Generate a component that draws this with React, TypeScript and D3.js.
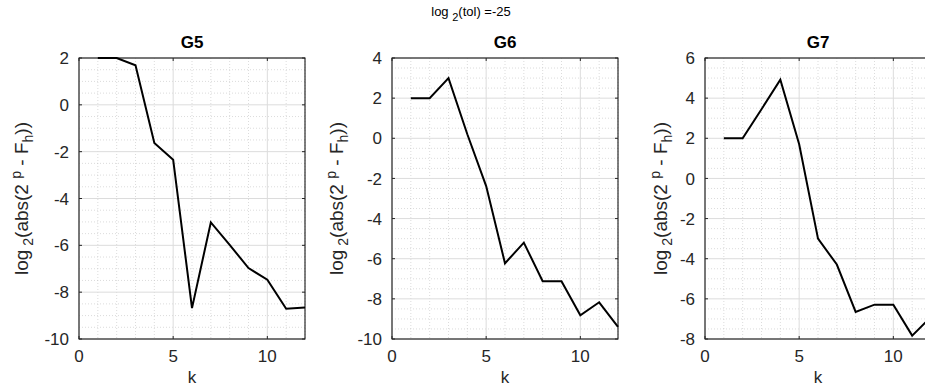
import React from "react";
import * as d3 from "d3";

const ks = [1, 2, 3, 4, 5, 6, 7, 8, 9, 10, 11, 12];
const g5 = [2.0, 2.0, 1.69, -1.63, -2.34, -8.68, -5.02, -5.98, -6.97, -7.47, -8.71, -8.65];
const g6 = [2.0, 2.0, 3.0, 0.2, -2.38, -6.23, -5.2, -7.12, -7.12, -8.82, -8.17, -9.4];
const g7 = [2.0, 2.0, 3.45, 4.92, 1.7, -3.0, -4.29, -6.65, -6.29, -6.29, -7.83, -6.9];

const titles = ["G5", "G6", "G7"];
const yDomains: [number, number][] = [[-10, 2], [-10, 4], [-8, 6]];
const series = [g5, g6, g7];
const xTicks = [0, 5, 10];

const W = 925, H = 392;
const panelLefts = [79, 392, 705];
const labelOffsets = [51, 49, 38];
const panelW = 226;
const top = 58, bottom = 339;
const FONT = "'Liberation Sans', Arial, Helvetica, sans-serif";

function Panel({ idx }: { idx: number }) {
  const left = panelLefts[idx];
  const x = d3.scaleLinear().domain([0, 12]).range([left, left + panelW]);
  const y = d3.scaleLinear().domain(yDomains[idx]).range([bottom, top]);
  const yTicks = d3.range(yDomains[idx][0], yDomains[idx][1] + 0.001, 2);
  const yMinor = d3.range(yDomains[idx][0], yDomains[idx][1] + 0.001, 0.5).filter((v) => Math.abs(v % 2) > 1e-6);
  const xMinor = d3.range(0, 12.001, 1).filter((v) => v % 5 !== 0);
  const line = d3.line<number>().x((_, i) => x(ks[i])).y((d) => y(d));
  const data = series[idx];
  const lx = left - labelOffsets[idx];
  const ly = (top + bottom) / 2;
  return (
    <g>
      {yMinor.map((v) => (
        <line key={"ym" + v} x1={left} x2={left + panelW} y1={y(v)} y2={y(v)} stroke="#c4c4c4" strokeWidth={0.6} strokeDasharray="1,2" />
      ))}
      {xMinor.map((v) => (
        <line key={"xm" + v} x1={x(v)} x2={x(v)} y1={top} y2={bottom} stroke="#c4c4c4" strokeWidth={0.6} strokeDasharray="1,2" />
      ))}
      {yTicks.map((v) => (
        <line key={"yg" + v} x1={left} x2={left + panelW} y1={y(v)} y2={y(v)} stroke="#dcdcdc" strokeWidth={1} />
      ))}
      {xTicks.map((v) => (
        <line key={"xg" + v} x1={x(v)} x2={x(v)} y1={top} y2={bottom} stroke="#dcdcdc" strokeWidth={1} />
      ))}
      <path d={line(data) || ""} fill="none" stroke="#000" strokeWidth={2} strokeLinejoin="miter" />
      <rect x={left} y={top} width={panelW} height={bottom - top} fill="none" stroke="#000" strokeWidth={1} />
      {yTicks.map((v) => (
        <g key={"yt" + v}>
          <line x1={left} x2={left + 3} y1={y(v)} y2={y(v)} stroke="#262626" />
          <line x1={left + panelW} x2={left + panelW - 3} y1={y(v)} y2={y(v)} stroke="#262626" />
          <text x={left - 10} y={y(v)} dy="0.36em" textAnchor="end" fontSize={17} fontFamily={FONT} fill="#262626">
            {v}
          </text>
        </g>
      ))}
      {xTicks.map((v) => (
        <g key={"xt" + v}>
          <line x1={x(v)} x2={x(v)} y1={bottom} y2={bottom - 3} stroke="#262626" />
          <line x1={x(v)} x2={x(v)} y1={top} y2={top + 3} stroke="#262626" />
          <text x={x(v)} y={bottom + 23} textAnchor="middle" fontSize={17} fontFamily={FONT} fill="#262626">
            {v}
          </text>
        </g>
      ))}
      <text x={left + panelW / 2} y={top - 10} textAnchor="middle" fontSize={17} fontWeight="bold" fontFamily={FONT} fill="#000">
        {titles[idx]}
      </text>
      <text x={left + panelW / 2} y={bottom + 44} textAnchor="middle" fontSize={17} fontFamily={FONT} fill="#262626">
        k
      </text>
      <text transform={`translate(${lx},${ly}) rotate(-90)`} textAnchor="middle" fontSize={19} fontFamily={FONT} fill="#262626">
        <tspan>log</tspan>
        <tspan fontSize={14} dy={5}> 2</tspan>
        <tspan dy={-5}>(abs(2 </tspan>
        <tspan fontSize={14} dy={-7}>p</tspan>
        <tspan dy={7}> - F</tspan>
        <tspan fontSize={14} dy={5}>h</tspan>
        <tspan dy={-5}>))</tspan>
      </text>
    </g>
  );
}

export default function App() {
  return (
    <svg width={W} height={H} style={{ position: "absolute", left: 0, top: 0, background: "#fff" }}>
      <rect x={0} y={0} width={W} height={H} fill="#fff" />
      <text x={471} y={16} textAnchor="middle" fontSize={13} fontFamily={FONT} fill="#000">
        <tspan>log </tspan>
        <tspan fontSize={11} dy={5}>2</tspan>
        <tspan dy={-5}>(tol) =-25</tspan>
      </text>
      {[0, 1, 2].map((i) => (
        <Panel key={i} idx={i} />
      ))}
    </svg>
  );
}
